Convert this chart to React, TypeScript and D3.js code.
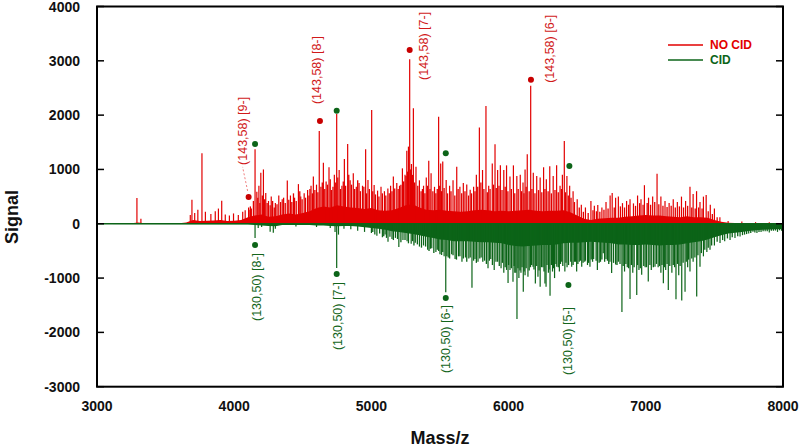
import React from "react";
import * as d3 from "d3";

// ---------- DATA ----------
const yTicks = [-3000, -2000, -1000, 0, 1000, 2000, 3000, 4000];
const xTicks = [3000, 4000, 5000, 6000, 7000, 8000];

// dense background level of the NO CID spectrum [m/z, signal]
const noCidBase: [number, number][] = [
  [3000, 0], [3050, 0], [3100, 5], [3150, 5], [3200, 5], [3250, 10], [3300, 25], [3350, 10], [3400, 5], [3450, 5],
  [3500, 5], [3550, 5], [3600, 10], [3650, 25], [3700, 70], [3750, 50], [3800, 55], [3850, 60], [3900, 70], [3950, 50],
  [4000, 55], [4050, 70], [4100, 120], [4150, 150], [4200, 170], [4250, 130], [4300, 140], [4350, 170], [4400, 190], [4450, 170],
  [4500, 200], [4550, 230], [4600, 290], [4650, 320], [4700, 300], [4750, 340], [4800, 320], [4850, 300], [4900, 290], [4950, 270],
  [5000, 290], [5050, 250], [5100, 240], [5150, 250], [5200, 290], [5250, 340], [5300, 360], [5350, 300], [5400, 260], [5450, 250],
  [5500, 260], [5550, 240], [5600, 230], [5650, 220], [5700, 230], [5750, 250], [5800, 260], [5850, 250], [5900, 230], [5950, 240],
  [6000, 230], [6050, 240], [6100, 250], [6150, 260], [6200, 240], [6250, 230], [6300, 240], [6350, 240], [6400, 250], [6450, 210],
  [6500, 150], [6550, 90], [6600, 70], [6650, 90], [6700, 100], [6750, 110], [6800, 110], [6850, 130], [6900, 140], [6950, 150],
  [7000, 160], [7050, 150], [7100, 150], [7150, 140], [7200, 130], [7250, 120], [7300, 140], [7350, 120], [7400, 120], [7450, 110],
  [7500, 70], [7550, 35], [7600, 20], [7650, 15], [7700, 15], [7750, 10], [7800, 10], [7850, 10], [7900, 10], [7950, 10], [8000, 10],
];

// main NO CID peaks [m/z, signal]
const noCidPeaks: [number, number][] = [
  [3291, 475], [3320, 90], [3680, 160], [3692, 440], [3712, 200], [3735, 260], [3765, 1300], [3790, 220], [3830, 180], [3862, 230],
  [3885, 280], [3909, 425], [3935, 170], [3965, 150], [3995, 190], [4030, 160], [4062, 220], [4080, 250], [4105, 300], [4125, 280],
  [4152, 1370], [4165, 590], [4180, 700], [4194, 940], [4213, 1000], [4230, 565], [4250, 420], [4270, 500], [4300, 380], [4325, 520],
  [4350, 450], [4387, 795], [4410, 520], [4440, 480], [4468, 730], [4485, 500], [4510, 560], [4535, 620], [4560, 700], [4577, 870],
  [4600, 720], [4620, 1710], [4650, 1125], [4670, 780], [4691, 1040], [4710, 620], [4730, 900], [4747, 2020], [4765, 990], [4785, 700],
  [4803, 1190], [4827, 1470], [4845, 800], [4868, 930], [4890, 680], [4910, 750], [4935, 700], [4958, 1370], [4975, 805], [5002, 2095],
  [5020, 715], [5045, 610], [5070, 680], [5095, 600], [5120, 650], [5140, 700], [5160, 870], [5185, 750], [5205, 700], [5226, 1020],
  [5245, 900], [5258, 1345], [5270, 1420], [5279, 3030], [5292, 1100], [5306, 2125], [5325, 1050], [5350, 800], [5380, 700], [5400, 850],
  [5418, 1160], [5435, 930], [5460, 680], [5490, 1970], [5505, 1110], [5520, 1145], [5545, 805], [5570, 700], [5595, 800], [5622, 1050],
  [5645, 680], [5670, 750], [5695, 725], [5720, 625], [5745, 680], [5765, 900], [5787, 1770], [5810, 990], [5835, 2170], [5855, 700],
  [5881, 1110], [5901, 1465], [5920, 990], [5940, 1075], [5965, 990], [5985, 1075], [6010, 870], [6035, 1075], [6060, 880], [6085, 900],
  [6105, 760], [6120, 1000], [6136, 1280], [6161, 2540], [6180, 940], [6205, 880], [6230, 850], [6255, 1040], [6275, 820], [6300, 1060],
  [6325, 880], [6350, 1075], [6375, 700], [6392, 900], [6406, 1525], [6425, 880], [6445, 700], [6470, 600], [6500, 450], [6530, 350],
  [6560, 300], [6600, 420], [6625, 330], [6650, 345], [6680, 300], [6710, 400], [6740, 520], [6755, 565], [6780, 480], [6800, 500],
  [6830, 380], [6860, 420], [6885, 450], [6910, 375], [6940, 520], [6965, 450], [6990, 710], [7020, 480], [7050, 500], [7082, 920],
  [7110, 500], [7140, 420], [7170, 380], [7200, 450], [7230, 400], [7260, 500], [7290, 420], [7322, 680], [7345, 550], [7370, 600],
  [7395, 400], [7420, 500], [7440, 530], [7470, 350], [7500, 280], [7540, 120], [7600, 50], [7700, 40], [7800, 30], [7900, 30],
];

// minor NO CID peaks filling the dense region [m/z, signal]
const noCidMinor: [number, number][] = [
  [4108, 260], [4118, 320], [4140, 420], [4172, 480], [4187, 380], [4205, 520], [4222, 450], [4240, 380], [4262, 340], [4280, 420],
  [4292, 300], [4312, 360], [4338, 400], [4360, 480], [4372, 380], [4398, 440], [4420, 400], [4432, 560], [4452, 420], [4478, 600],
  [4495, 450], [4520, 480], [4545, 520], [4552, 640], [4570, 560], [4588, 620], [4610, 580], [4632, 680], [4642, 760], [4660, 640],
  [4680, 720], [4700, 820], [4720, 680], [4740, 760], [4755, 850], [4775, 640], [4795, 780], [4812, 700], [4835, 900], [4855, 720],
  [4878, 640], [4900, 800], [4920, 600], [4945, 680], [4965, 560], [4985, 640], [5010, 600], [5030, 540], [5055, 500], [5080, 560],
  [5105, 520], [5130, 560], [5150, 600], [5170, 650], [5195, 640], [5215, 720], [5235, 780], [5252, 880], [5264, 960], [5285, 1000],
  [5300, 900], [5315, 760], [5338, 700], [5362, 600], [5372, 640], [5390, 560], [5410, 700], [5427, 640], [5448, 600], [5470, 560],
  [5480, 640], [5498, 700], [5512, 600], [5530, 660], [5555, 560], [5580, 600], [5608, 520], [5632, 640], [5658, 560], [5682, 600],
  [5708, 520], [5730, 560], [5755, 600], [5775, 680], [5798, 760], [5820, 640], [5845, 580], [5865, 640], [5890, 720], [5910, 660],
  [5930, 700], [5952, 620], [5975, 680], [5995, 600], [6020, 640], [6045, 560], [6070, 640], [6095, 600], [6112, 560], [6128, 680],
  [6150, 600], [6170, 640], [6192, 560], [6218, 620], [6242, 580], [6265, 640], [6288, 600], [6312, 560], [6338, 620], [6362, 580],
  [6385, 640], [6415, 580], [6435, 520], [6455, 480], [6480, 400], [6515, 300], [6545, 220], [6580, 200], [6615, 250], [6640, 230],
  [6665, 220], [6695, 260], [6725, 280], [6770, 300], [6815, 320], [6845, 300], [6875, 350], [6925, 330], [6955, 380], [6980, 350],
  [7010, 380], [7035, 350], [7065, 400], [7095, 360], [7125, 330], [7155, 310], [7185, 330], [7215, 300], [7245, 320], [7275, 300],
  [7305, 330], [7335, 300], [7360, 280], [7385, 300], [7410, 280], [7455, 230], [7485, 180], [7520, 120],
];

// dense background level of the CID spectrum [m/z, signal]
const cidBase: [number, number][] = [
  [3000, -5], [4100, -10], [4150, -25], [4200, -30], [4250, -40], [4300, -45], [4350, -25], [4400, -25], [4450, -25], [4500, -25],
  [4550, -25], [4600, -30], [4650, -30], [4700, -40], [4750, -45], [4800, -40], [4850, -40], [4900, -50], [4950, -65], [5000, -80],
  [5050, -90], [5100, -110], [5150, -140], [5200, -150], [5250, -170], [5300, -190], [5350, -210], [5400, -240], [5450, -260], [5500, -290],
  [5550, -300], [5600, -320], [5650, -320], [5700, -320], [5750, -330], [5800, -340], [5850, -340], [5900, -350], [5950, -360], [6000, -390],
  [6050, -410], [6100, -420], [6150, -410], [6200, -400], [6250, -390], [6300, -390], [6350, -380], [6400, -360], [6450, -350], [6500, -350],
  [6550, -340], [6600, -330], [6650, -340], [6700, -350], [6750, -360], [6800, -380], [6850, -380], [6900, -390], [6950, -390], [7000, -380],
  [7050, -390], [7100, -400], [7150, -390], [7200, -390], [7250, -380], [7300, -360], [7350, -340], [7400, -320], [7450, -290], [7500, -250],
  [7550, -210], [7600, -180], [7650, -165], [7700, -150], [7750, -135], [7800, -120], [7850, -110], [7900, -105], [7950, -100], [8000, -95],
];

// main CID peaks [m/z, signal]
const cidPeaks: [number, number][] = [
  [4152, -260], [4175, -80], [4200, -60], [4262, -145], [4285, -165], [4300, -90], [4450, -50], [4600, -60], [4700, -80], [4735, -150],
  [4747, -815], [4760, -200], [4800, -90], [4850, -100], [4900, -130], [4950, -150], [5000, -170], [5040, -220], [5080, -250], [5100, -200],
  [5121, -330], [5150, -280], [5175, -260], [5200, -430], [5230, -300], [5260, -320], [5290, -370], [5320, -350], [5350, -420], [5380, -400],
  [5410, -480], [5440, -450], [5470, -520], [5490, -500], [5512, -575], [5530, -600], [5542, -1260], [5560, -620], [5585, -560], [5610, -650],
  [5635, -600], [5660, -700], [5685, -620], [5710, -640], [5733, -1180], [5755, -650], [5777, -700], [5800, -620], [5825, -680], [5850, -820],
  [5870, -650], [5895, -850], [5920, -700], [5945, -820], [5965, -900], [5985, -850], [5996, -1090], [6010, -850], [6032, -1070], [6045, -900],
  [6061, -1755], [6075, -1000], [6090, -900], [6107, -1250], [6120, -950], [6141, -975], [6160, -800], [6178, -790], [6195, -1100], [6214, -975],
  [6230, -1160], [6250, -800], [6265, -1100], [6273, -1160], [6290, -900], [6302, -1325], [6320, -880], [6335, -1000], [6351, -790], [6370, -880],
  [6387, -700], [6410, -880], [6426, -800], [6460, -790], [6480, -700], [6496, -880], [6515, -700], [6533, -790], [6555, -700], [6575, -760],
  [6593, -790], [6620, -650], [6647, -850], [6670, -700], [6690, -545], [6710, -650], [6739, -700], [6751, -905], [6780, -750], [6800, -700],
  [6826, -1625], [6845, -880], [6865, -800], [6885, -1385], [6905, -900], [6934, -1310], [6950, -850], [6970, -940], [6995, -800], [7018, -1065],
  [7040, -850], [7067, -790], [7090, -800], [7110, -900], [7128, -1095], [7145, -850], [7164, -1220], [7190, -900], [7220, -1390], [7240, -950],
  [7262, -1415], [7286, -1250], [7305, -800], [7322, -880], [7345, -700], [7371, -1340], [7395, -790], [7420, -600], [7445, -520], [7468, -480],
  [7500, -400], [7541, -355], [7575, -320], [7614, -300], [7650, -260], [7687, -235], [7720, -200], [7750, -180], [7781, -145], [7810, -170],
  [7840, -150], [7870, -140], [7900, -160], [7930, -130], [7960, -150], [7990, -130],
];

// minor CID peaks filling the dense region [m/z, signal]
const cidMinor: [number, number][] = [
  [5010, -150], [5025, -200], [5060, -180], [5090, -230], [5110, -260], [5135, -240], [5160, -300], [5190, -280], [5215, -340], [5245, -300],
  [5270, -360], [5300, -320], [5310, -400], [5335, -380], [5365, -440], [5395, -420], [5420, -500], [5430, -460], [5455, -540], [5480, -480],
  [5500, -560], [5520, -520], [5550, -600], [5570, -640], [5595, -580], [5620, -660], [5645, -600], [5670, -640], [5695, -700], [5720, -620],
  [5745, -680], [5765, -720], [5790, -640], [5812, -700], [5838, -740], [5860, -680], [5882, -760], [5908, -700], [5932, -780], [5955, -720],
  [5975, -800], [6000, -760], [6020, -820], [6040, -780], [6053, -900], [6068, -820], [6083, -860], [6098, -800], [6113, -880], [6128, -820],
  [6150, -860], [6168, -760], [6185, -840], [6205, -780], [6222, -860], [6240, -800], [6258, -880], [6280, -760], [6295, -840], [6312, -760],
  [6328, -820], [6345, -740], [6362, -800], [6378, -740], [6395, -780], [6418, -720], [6437, -760], [6453, -700], [6470, -760], [6488, -700],
  [6505, -740], [6523, -680], [6543, -720], [6560, -680], [6583, -720], [6602, -660], [6612, -700], [6638, -680], [6660, -720], [6680, -660],
  [6700, -700], [6720, -680], [6730, -740], [6765, -720], [6790, -760], [6812, -740], [6835, -780], [6855, -740], [6875, -820], [6895, -760],
  [6915, -800], [6940, -760], [6960, -820], [6985, -780], [7005, -800], [7030, -760], [7055, -800], [7078, -740], [7100, -780], [7118, -760],
  [7135, -800], [7155, -740], [7175, -780], [7200, -760], [7210, -800], [7230, -740], [7250, -780], [7272, -720], [7295, -700], [7312, -660],
  [7335, -640], [7358, -620], [7380, -580], [7405, -540], [7430, -480], [7455, -440], [7480, -400], [7520, -330], [7560, -300], [7595, -270],
  [7630, -250], [7670, -230], [7705, -210], [7735, -190], [7765, -170], [7795, -160], [7825, -150], [7855, -140], [7885, -140], [7915, -130],
  [7945, -125], [7975, -120],
];

// annotated ions
const noCidMarks = [
  { mz: 4105, signal: 494, label: "(143,58) [9-]" },
  { mz: 4625, signal: 1890, label: "(143,58) [8-]" },
  { mz: 5279, signal: 3200, label: "(143,58) [7-]" },
  { mz: 6163, signal: 2650, label: "(143,58) [6-]" },
];
const cidTopMarks = [
  { mz: 4152, signal: 1470 },
  { mz: 4747, signal: 2080 },
  { mz: 5542, signal: 1300 },
  { mz: 6443, signal: 1063 },
];
const cidMarks = [
  { mz: 4152, signal: -390, label: "(130,50) [8-]" },
  { mz: 4747, signal: -925, label: "(130,50) [7-]" },
  { mz: 5542, signal: -1366, label: "(130,50) [6-]" },
  { mz: 6436, signal: -1127, label: "(130,50) [5-]" },
];
const seriesNames = ["NO CID", "CID"];

// ---------- LAYOUT / STYLE ----------
const W = 800, H = 447;
const RED = "#e20000";
const GREEN = "#0c6418";
const RED_TXT = "#d11a1a";
const GREEN_TXT = "#14661c";
const noCidLabelPos = [
  { dx: -6, dy: -32, leader: true },
  { dx: -3, dy: -17, leader: false },
  { dx: 14, dy: 30, leader: false },
  { dx: 19, dy: 3, leader: false },
];
const cidLabelPos = [
  { dx: 2, dy: 8 },
  { dx: 1, dy: 8 },
  { dx: 0, dy: 7 },
  { dx: 0, dy: 22 },
];

export default function App() {
  const x = d3.scaleLinear().domain([3000, 8000]).range([97, 783]);
  const y = d3.scaleLinear().domain([-3000, 4000]).range([386.7, 6.5]);
  const y0 = y(0);

  const area = d3
    .area<[number, number]>()
    .x((d) => x(d[0]))
    .y0(y0)
    .y1((d) => y(d[1]));

  const font = "'Liberation Sans', Arial, sans-serif";
  const x0 = x.range()[0], x1 = x.range()[1];
  const yt = y.range()[1], yb = y.range()[0];

  const stick = (data: [number, number][], color: string, key: string, w: number) =>
    data.map((d, i) => (
      <line key={key + i} x1={x(d[0])} x2={x(d[0])} y1={y0} y2={y(d[1])} stroke={color} strokeWidth={w} />
    ));

  return (
    <svg width={W} height={H} style={{ position: "absolute", left: 0, top: 0, background: "#fff" }} fontFamily={font}>
      <rect width={W} height={H} fill="#fff" />
      {/* spectra */}
      <path d={area(noCidBase) || ""} fill={RED} />
      {stick(noCidMinor, RED, "rn", 1.3)}
      {stick(noCidPeaks, RED, "r", 1.2)}
      <path d={area(cidBase) || ""} fill={GREEN} />
      {stick(cidMinor, GREEN, "gn", 1.3)}
      {stick(cidPeaks, GREEN, "g", 1.2)}
      <line x1={x0} x2={x1} y1={y0} y2={y0} stroke={GREEN} strokeWidth={1.5} />

      {/* annotations */}
      {noCidMarks.map((m, i) => {
        const cx = x(m.mz), cy = y(m.signal);
        const p = noCidLabelPos[i];
        const lx = cx + p.dx, ly = cy + p.dy;
        return (
          <g key={"rm" + i}>
            {p.leader && (
              <line x1={cx - 1} y1={cy - 6} x2={lx} y2={ly + 2} stroke="#f08080" strokeWidth={1} strokeDasharray="2,2" />
            )}
            <circle cx={cx} cy={cy} r={3} fill="#c80000" />
            <text
              transform={`translate(${lx},${ly}) rotate(-90)`}
              fontSize={12.5}
              fill={RED_TXT}
              dominantBaseline="central"
              textAnchor="start"
            >
              {m.label}
            </text>
          </g>
        );
      })}
      {cidTopMarks.map((m, i) => (
        <circle key={"gt" + i} cx={x(m.mz)} cy={y(m.signal)} r={3} fill={GREEN} />
      ))}
      {cidMarks.map((m, i) => {
        const cx = x(m.mz), cy = y(m.signal);
        const p = cidLabelPos[i];
        return (
          <g key={"gm" + i}>
            <circle cx={cx} cy={cy} r={3} fill={GREEN} />
            <text
              transform={`translate(${cx + p.dx},${cy + p.dy}) rotate(-90)`}
              fontSize={12.5}
              fill={GREEN_TXT}
              dominantBaseline="central"
              textAnchor="end"
            >
              {m.label}
            </text>
          </g>
        );
      })}

      {/* frame */}
      <rect x={x0} y={yt} width={x1 - x0} height={yb - yt} fill="none" stroke="#000" strokeWidth={2} />
      {yTicks.map((t) => (
        <g key={"yt" + t}>
          <line x1={x0} x2={x0 + 7} y1={y(t)} y2={y(t)} stroke="#000" strokeWidth={1.5} />
          <line x1={x1} x2={x1 - 7} y1={y(t)} y2={y(t)} stroke="#000" strokeWidth={1.5} />
          <text x={80} y={y(t)} textAnchor="end" dominantBaseline="central" fontSize={14} fontWeight="bold" fill="#111">
            {t}
          </text>
        </g>
      ))}
      {xTicks.map((t) => (
        <text key={"xt" + t} x={x(t)} y={406} textAnchor="middle" dominantBaseline="central" fontSize={14} fontWeight="bold" fill="#111">
          {t}
        </text>
      ))}
      <text x={440} y={438} textAnchor="middle" dominantBaseline="central" fontSize={18} fontWeight="bold" fill="#111">
        Mass/z
      </text>
      <text transform={`translate(12,217) rotate(-90)`} textAnchor="middle" dominantBaseline="central" fontSize={18} fontWeight="bold" fill="#111">
        Signal
      </text>

      {/* legend */}
      <line x1={668} x2={703} y1={45} y2={45} stroke={RED} strokeWidth={1.5} />
      <text x={710} y={45} dominantBaseline="central" fontSize={12} fontWeight="bold" fill={RED}>
        {seriesNames[0]}
      </text>
      <line x1={668} x2={703} y1={60} y2={60} stroke={GREEN} strokeWidth={1.5} />
      <text x={710} y={60} dominantBaseline="central" fontSize={12} fontWeight="bold" fill={GREEN}>
        {seriesNames[1]}
      </text>
    </svg>
  );
}
